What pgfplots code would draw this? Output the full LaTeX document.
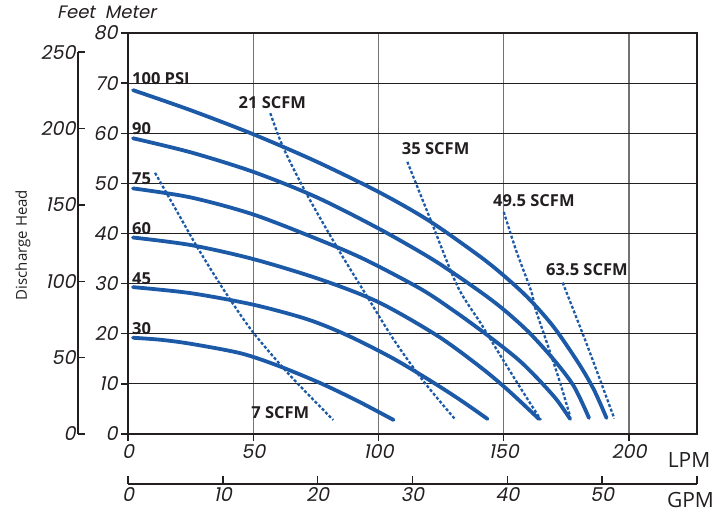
\documentclass[border=0pt]{standalone}
\usepackage{pgfplots}
\pgfplotsset{compat=1.18}
\usepackage{fontspec}
\setmainfont{Open Sans}
\newfontfamily\tickfont[FakeSlant=0.2]{Poppins}
\definecolor{cblue}{RGB}{28,90,168}
\definecolor{axblack}{RGB}{35,31,32}
\tikzset{
  solid curve/.style={cblue, line width=3.8pt, line cap=round, smooth},
  scfm/.style={cblue, line width=2.3pt, dash pattern=on 3pt off 2pt, smooth},
  lab/.style={font=\bfseries\fontsize{16.5}{16.5}\selectfont, text=axblack, inner sep=0pt},
}
\begin{document}
\begin{tikzpicture}
\useasboundingbox (-128pt,-80pt) rectangle (598pt,434pt);
% Feet axis
\begin{axis}[
  at={(-50pt,0pt)}, anchor=south west,
  scale only axis, width=20pt, height=381.95pt,
  xmin=0, xmax=1, ymin=0, ymax=250,
  axis x line=none, axis y line*=left,
  ytick={0,50,...,250}, tick align=inside, major tick length=7pt,
  /pgf/number format/assume math mode=true,
  tick label style={font=\tickfont\fontsize{19}{19}\selectfont, text=axblack},
  yticklabel style={xshift=1pt},
  axis line style={axblack, line width=1.6pt},
  tick style={axblack, line width=1.4pt},
]
\addplot[draw=none] coordinates {(0,0)};
\end{axis}
% GPM axis
\begin{axis}[
  at={(0pt,-50pt)}, anchor=south west,
  scale only axis, width=569pt, height=20pt,
  xmin=0, xmax=60, ymin=0, ymax=1,
  axis y line=none, axis x line*=bottom,
  xtick={0,10,...,60}, xticklabels={0,10,20,30,40,50,{}},
  tick align=inside, major tick length=8pt,
  /pgf/number format/assume math mode=true,
  tick label style={font=\tickfont\fontsize{19}{19}\selectfont, text=axblack},
  axis line style={axblack, line width=1.6pt},
  tick style={axblack, line width=1.4pt},
]
\addplot[draw=none] coordinates {(0,0)};
\end{axis}
% Main axis
\begin{axis}[
  at={(0pt,0pt)}, anchor=south west,
  scale only axis, width=569pt, height=401pt,
  xmin=0, xmax=227.12, ymin=0, ymax=80,
  xtick={0,50,100,150,200}, ytick={0,10,...,80},
  xtick pos=left, ytick pos=left, tick align=outside,
  major tick length=7pt,
  /pgf/number format/assume math mode=true,
  tick label style={font=\tickfont\fontsize{19}{19}\selectfont, text=axblack},
  xmajorgrids, ymajorgrids,
  x grid style={black!55, line width=1.3pt},
  y grid style={axblack, line width=1pt},
  axis line style={axblack, line width=1.8pt},
  tick style={axblack, line width=1.4pt},
  clip=false,
]
% pressure curves
\addplot[solid curve] coordinates {(2,68.6) (25,64.6) (50,59.8) (75,54.4) (100,48.3) (120,42.6) (140,35.6) (150,31.6) (160,27) (170,21.3) (180,14) (186,8.8) (191,3.2)};
\addplot[solid curve] coordinates {(2,59) (25,56.2) (50,52.3) (75,47.3) (100,41) (122,34.7) (140,28.6) (150,24.8) (160,20.3) (170,14.8) (178,9.5) (184,3.2)};
\addplot[solid curve] coordinates {(2,49) (25,47.2) (50,43.8) (77,38.6) (95,34.7) (117,28.9) (130,24.6) (140,21) (150,17.2) (157,14.3) (164,10.8) (171,6.9) (176.5,3.0)};
\addplot[solid curve] coordinates {(2,39.2) (25,37.7) (50,34.9) (77,30.8) (100,26.3) (123.5,19.6) (140.8,13.3) (152,8.6) (164,3)};
\addplot[solid curve] coordinates {(2,29.3) (25,28.1) (50,25.8) (71.5,22.9) (87.5,19.7) (105,15.3) (119.5,11) (132,7) (143.5,3)};
\addplot[solid curve] coordinates {(2,19.2) (13,18.8) (25,18.0) (45,16.1) (60,13.6) (77,10.1) (92,6.5) (106,2.8)};
% air consumption lines
\addplot[scfm] coordinates {(10.8,52.1) (20,44) (27.5,37.4) (37,29.7) (46.1,22.9) (52.3,18.8) (65,11.5) (81.9,2.8)};
\addplot[scfm] coordinates {(56.8,64) (62.1,57) (71.5,47.7) (84.1,36.7) (95,27.8) (106.1,18.8) (118,10.5) (130.8,2.8)};
\addplot[scfm] coordinates {(111.5,54.3) (120.8,42.7) (131.5,29.5) (140.8,22.1) (144.8,18.8) (155,10.5) (164.8,2.8)};
\addplot[scfm] coordinates {(150,44.3) (155,36.5) (160.8,28.7) (162.8,24.7) (167,18.5) (172,11) (176.5,3.5)};
\addplot[scfm] coordinates {(173.5,30.2) (183.5,17.4) (194.1,3.1)};
% labels
\node[lab, anchor=west] at (axis cs:1.6,71) {100 PSI};
\node[lab, anchor=west] at (axis cs:1.6,61) {90};
\node[lab, anchor=west] at (axis cs:1.6,51) {75};
\node[lab, anchor=west] at (axis cs:1.6,41) {60};
\node[lab, anchor=west] at (axis cs:1.6,31) {45};
\node[lab, anchor=west] at (axis cs:1.6,21) {30};
\node[lab] at (axis cs:57.6,66.2) {21 SCFM};
\node[lab] at (axis cs:122.8,57) {35 SCFM};
\node[lab] at (axis cs:162,46.5) {49.5 SCFM};
\node[lab] at (axis cs:183.2,32.7) {63.5 SCFM};
\node[lab] at (axis cs:60.8,4.2) {7 SCFM};
\node[font=\fontsize{21}{21}\selectfont, text=axblack] at (rel axis cs:0.986,0) [yshift=-26pt] {LPM};
\end{axis}
\node[font=\fontsize{21}{21}\selectfont, text=axblack] at (562.5pt,-66pt) {GPM};
\node[font=\tickfont\fontsize{18}{18}\selectfont, text=axblack] at (-52pt,421.5pt) {Feet};
\node[font=\tickfont\fontsize{18}{18}\selectfont, text=axblack] at (2.5pt,421.5pt) {Meter};
\node[font=\fontsize{15}{15}\selectfont, text=axblack, rotate=90] at (-105pt,189pt) {Discharge Head};
\end{tikzpicture}
\end{document}
